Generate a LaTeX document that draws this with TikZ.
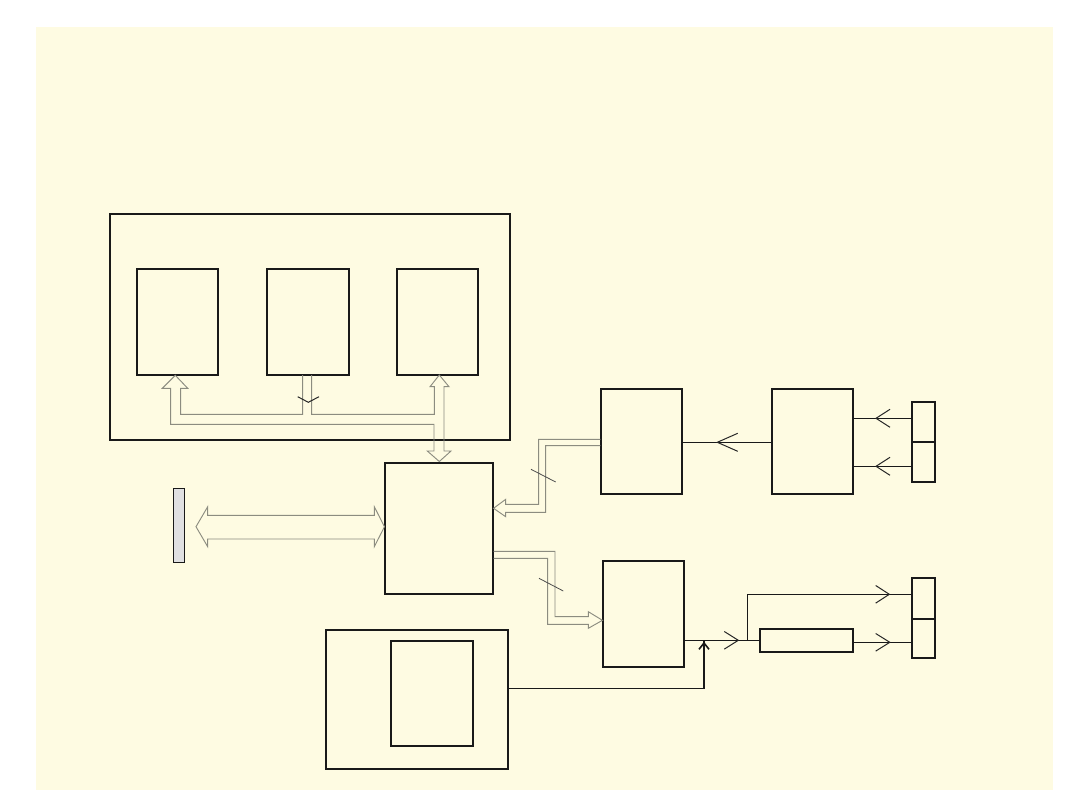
\documentclass[tikz,border=0pt]{standalone}
\usetikzlibrary{fit}
\definecolor{cream}{HTML}{FEFBE2}
\definecolor{busgray}{HTML}{8C8C80}
\definecolor{panelgray}{HTML}{E0E0E2}
\tikzset{
  box/.style={draw=black!90, line width=0.8pt, inner sep=0pt},
  wire/.style={draw=black!90, line width=0.8pt},
  chev/.style={draw=black!85, line width=0.75pt},
  bus/.style={draw=busgray, line width=0.7pt, line join=miter},
  slash/.style={draw=black!70, line width=0.6pt},
}
\begin{document}
\begin{tikzpicture}[x=0.75pt,y=-0.75pt]
\useasboundingbox (0,0) rectangle (1080,810);
\fill[white] (0,0) rectangle (1080,810);
\fill[cream] (36,27) rectangle (1053,790);

% top group
\node[box, fit={(110,214) (510,440)}] (outer) {};
\node[box, fit={(137,269) (218,375)}] (m1) {};
\node[box, fit={(267,269) (349,375)}] (m2) {};
\node[box, fit={(397,269) (478,375)}] (m3) {};

% main box
\node[box, fit={(385,463) (493,594)}] (main) {};

% panel at left
\node[box, fill=panelgray, line width=0.7pt, fit={(173,488) (184,562)}] (panel) {};

% right upper
\node[box, fit={(601,389) (682,494)}] (A) {};
\node[box, fit={(772,389) (853,494)}] (B) {};
\node[box, fit={(912,402) (935,442)}] (s1) {};
\node[box, fit={(912,442) (935,482)}] (s2) {};

% right lower
\node[box, fit={(603,561) (684,667)}] (C) {};
\node[box, fit={(760,629) (853,652)}] (D) {};
\node[box, fit={(912,578) (935,619)}] (s3) {};
\node[box, fit={(912,619) (935,658)}] (s4) {};

% bottom box
\node[box, fit={(326,630) (508,769)}] (bot) {};
\node[box, fit={(391,641) (473,746)}] (botin) {};

% --- internal bus (top group to main box)
\draw[bus] (302.7,375) -- (302.7,414.3) -- (180.7,414.3) -- (180.7,388.3) -- (187.7,388.3)
  -- (175.3,375.3) -- (162.3,388.3) -- (170.7,388.3) -- (170.7,424.3) -- (434,424.3)
  -- (434,451) -- (427.3,451) -- (439.3,461.5) -- (451,451) -- (444,451) -- (444,386.7)
  -- (449,386.7) -- (439.3,375) -- (430,386.7) -- (434.3,386.7) -- (434.3,414.3)
  -- (311.7,414.3) -- (311.7,375);
\draw[chev] (297.7,396.7) -- (308.3,402.3) -- (319,396.7);

% --- bus A -> main
\draw[bus] (A.west |- 0,439.3) -- (538.7,439.3) -- (538.7,504.3) -- (505.7,504.3) -- (505.7,499.3)
  -- (main.east |- 0,508.3) -- (505.7,516.7) -- (505.7,512.3) -- (545.7,512.3) -- (545.7,445.7)
  -- (A.west |- 0,445.7);
\draw[slash] (531,469.3) -- (555.7,482);

% --- bus main -> C
\draw[bus] (main.east |- 0,551.3) -- (555,551.3) -- (555,616.7) -- (588.3,616.7) -- (588.3,611.7)
  -- (C.west |- 0,620.3) -- (588.3,628.3) -- (588.3,624.3) -- (547.7,624.3) -- (547.7,558.3)
  -- (main.east |- 0,558.3);
\draw[slash] (539,578.3) -- (563.3,591);

% --- double hollow arrow panel <-> main
\draw[bus] (196,526.7) -- (207.7,506.7) -- (207.7,515.3) -- (374.3,515.3) -- (374.3,506.7)
  -- (main.west |- 0,526.7) -- (374.3,546.7) -- (374.3,539) -- (207.7,539) -- (207.7,546.7) -- cycle;

% --- upper right wires
\draw[wire] (s1.west |- 0,418.3) -- (B.east |- 0,418.3);
\draw[chev] (890,409.3) -- (876,418.3) -- (890,427.3);
\draw[wire] (s2.west |- 0,466.3) -- (B.east |- 0,466.3);
\draw[chev] (890,457.3) -- (876,466.3) -- (890,475.3);
\draw[wire] (B.west |- 0,442.3) -- (A.east |- 0,442.3);
\draw[chev] (737.7,433.3) -- (717.3,442.3) -- (737.7,451.3);

% --- lower right wires
\coordinate (j) at (747.3,640.3);
\draw[wire] (C.east |- 0,640.3) -- (D.west |- 0,640.3);
\draw[chev] (724.3,631.5) -- (738.3,640.3) -- (724.3,649.1);
\draw[wire] (j) -- (747.3,594.3) -- (s3.west |- 0,594.3);
\draw[chev] (875.7,585.5) -- (889.3,594.3) -- (875.7,603.1);
\draw[wire] (D.east |- 0,642.3) -- (s4.west |- 0,642.3);
\draw[chev] (875.7,633.5) -- (889.8,642.3) -- (875.7,651.1);

% --- bottom box to C output line
\coordinate (up) at (704,641);
\draw[wire] (bot.east |- 0,688.3) -- (704,688.3) -- (up);
\draw[draw=black!90, line width=1.2pt] (699,649.3) -- (704,643) -- (709,649.3);
\end{tikzpicture}
\end{document}
